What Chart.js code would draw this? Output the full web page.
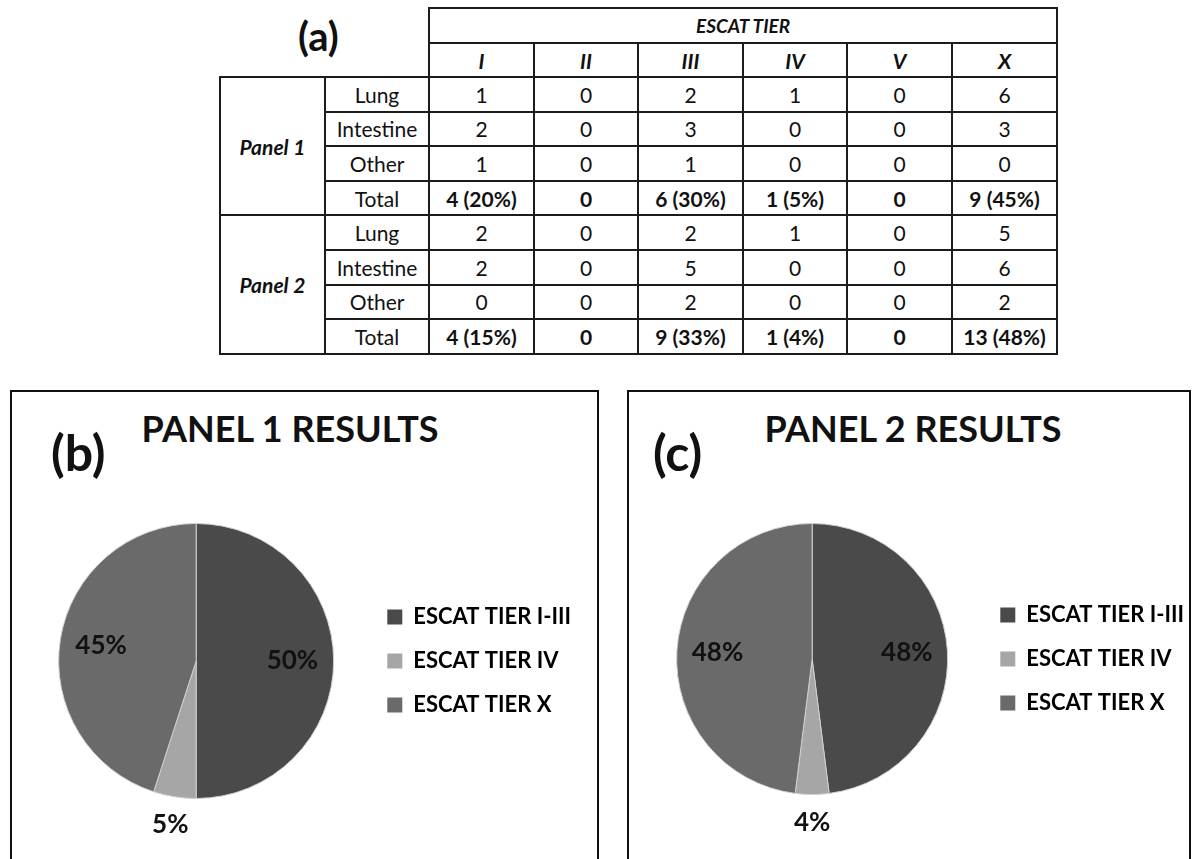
<!DOCTYPE html>
<html>
<head>
<meta charset="utf-8">
<script src="https://cdn.jsdelivr.net/npm/chart.js@4.4.1/dist/chart.umd.min.js"></script>
<style>
    body {
        margin: 0;
        width: 1200px;
        height: 859px;
        position: relative;
        overflow: hidden;
        background: #fff;
        color: #111;
        font-family: Lato, 'Open Sans', sans-serif;
    }
    .tag {
        position: absolute;
        font-weight: bold;
        white-space: nowrap;
    }
    #tagA { left: 298px; top: 16px; font-size: 40px; line-height: 40px; }
    #tagB { left: 51px; top: 427px; font-size: 50px; line-height: 50px; }
    #tagC { left: 653px; top: 427px; font-size: 50px; line-height: 50px; }
    .title {
        position: absolute;
        top: 410px;
        width: 400px;
        margin-left: -200px;
        text-align: center;
        font-size: 36px;
        line-height: 36px;
        font-weight: bold;
    }
    #title1 { left: 290px; }
    #title2 { left: 913px; }

    #tierTable {
        position: absolute;
        left: 219px;
        top: 7px;
        width: 839px;
        border-collapse: collapse;
        table-layout: fixed;
        font-size: 21px;
    }
    #tierTable td, #tierTable th {
        border: 2px solid #1c1c1c;
        text-align: center;
        vertical-align: middle;
        padding: 0;
        font-weight: normal;
        white-space: nowrap;
    }
    #tierTable th { font-weight: bold; font-style: italic; }
    #tierTable td.corner { border: none; }
    #tierTable td.panel { font-weight: bold; font-style: italic; }
    #tierTable tr.total td.v { font-weight: bold; }

    .box {
        position: absolute;
        top: 390px;
        height: 480px;
        border: 2px solid #111;
        box-sizing: border-box;
    }
    #box1 { left: 10px; width: 589px; }
    #box2 { left: 627px; width: 564px; }
    canvas { position: absolute; }
    #pie1 { left: 18px; top: 481px; }
    #pie2 { left: 636px; top: 481px; }
</style>
</head>
<body>
<div class="tag" id="tagA">(a)</div>
<table id="tierTable"></table>

<div class="box" id="box1"></div>
<div class="box" id="box2"></div>
<div class="tag" id="tagB">(b)</div>
<div class="tag" id="tagC">(c)</div>
<div class="title" id="title1">PANEL 1 RESULTS</div>
<div class="title" id="title2">PANEL 2 RESULTS</div>

<canvas id="pie1" width="563" height="360"></canvas>
<canvas id="pie2" width="558" height="360"></canvas>

<script>
// Tableau (a)
const tierHeader = 'ESCAT TIER';
const tierCols = ['I', 'II', 'III', 'IV', 'V', 'X'];
const panelNames = ['Panel 1', 'Panel 2'];
const rowLabels = ['Lung', 'Intestine', 'Other', 'Total'];
const panel1Rows = [
    [1, 0, 2, 1, 0, 6],
    [2, 0, 3, 0, 0, 3],
    [1, 0, 1, 0, 0, 0]
];
const panel1Totals = ['4 (20%)', '0', '6 (30%)', '1 (5%)', '0', '9 (45%)'];
const panel2Rows = [
    [2, 0, 2, 1, 0, 5],
    [2, 0, 5, 0, 0, 6],
    [0, 0, 2, 0, 0, 2]
];
const panel2Totals = ['4 (15%)', '0', '9 (33%)', '1 (4%)', '0', '13 (48%)'];

// Camemberts (b) et (c)
const pieLabels = ['ESCAT TIER I-III', 'ESCAT TIER IV', 'ESCAT TIER X'];
const panel1Pct = [50, 5, 45];
const panel2Pct = [48, 4, 48];
const pieColors = ['#4a4a4a', '#a6a6a6', '#6a6a6a'];

function buildTable() {
    const table = document.getElementById('tierTable');
    const colWidths = [105, 104, 105, 104, 105, 104, 105, 105];
    const colgroup = document.createElement('colgroup');
    colWidths.forEach(w => {
        const col = document.createElement('col');
        col.style.width = w + 'px';
        colgroup.appendChild(col);
    });
    table.appendChild(colgroup);

    let html = '<tr style="height:35px"><td class="corner" colspan="2" rowspan="2"></td>' +
        '<th colspan="6" style="font-size:19px">' + tierHeader + '</th></tr>';
    html += '<tr style="height:34px">' + tierCols.map(c => '<th>' + c + '</th>').join('') + '</tr>';

    [[panel1Rows, panel1Totals], [panel2Rows, panel2Totals]].forEach(([rows, totals], p) => {
        rows.forEach((vals, r) => {
            html += '<tr style="height:34.6px">';
            if (r === 0) html += '<td class="panel" rowspan="4">' + panelNames[p] + '</td>';
            html += '<td>' + rowLabels[r] + '</td>';
            html += vals.map(v => '<td class="v">' + v + '</td>').join('');
            html += '</tr>';
        });
        html += '<tr class="total" style="height:34.6px"><td>' + rowLabels[3] + '</td>' +
            totals.map(v => '<td class="v">' + v + '</td>').join('') + '</tr>';
    });
    table.innerHTML += html;
}

// Étiquettes de pourcentage sur les parts
const pctLabels = {
    id: 'pctLabels',
    afterDatasetsDraw(chart) {
        const ctx = chart.ctx;
        const values = chart.data.datasets[0].data;
        const meta = chart.getDatasetMeta(0);
        ctx.save();
        ctx.font = 'bold 26px Lato';
        ctx.fillStyle = '#111';
        ctx.textAlign = 'center';
        ctx.textBaseline = 'middle';
        meta.data.forEach((arc, i) => {
            const p = arc.getProps(['x', 'y', 'startAngle', 'endAngle', 'outerRadius'], true);
            const mid = (p.startAngle + p.endAngle) / 2;
            const dist = values[i] < 10 ? p.outerRadius + 28 : p.outerRadius * 0.7;
            ctx.fillText(values[i] + '%', p.x + Math.cos(mid) * dist, p.y + Math.sin(mid) * dist);
        });
        ctx.restore();
    }
};

function createPie(canvasId, values, padding) {
    return new Chart(document.getElementById(canvasId), {
        type: 'pie',
        data: {
            labels: pieLabels,
            datasets: [{
                data: values,
                backgroundColor: pieColors,
                borderColor: '#cfcfcf',
                borderWidth: 1
            }]
        },
        options: {
            responsive: false,
            animation: false,
            layout: { padding: padding },
            plugins: {
                tooltip: { enabled: false },
                legend: {
                    position: 'right',
                    labels: {
                        boxWidth: 15,
                        boxHeight: 15,
                        padding: 22,
                        color: '#000',
                        font: { family: 'Lato', size: 22, weight: 'bold' },
                        generateLabels(chart) {
                            return chart.data.labels.map((text, i) => ({
                                text: text,
                                fillStyle: pieColors[i],
                                strokeStyle: pieColors[i],
                                lineWidth: 0,
                                index: i
                            }));
                        }
                    }
                }
            }
        },
        plugins: [pctLabels]
    });
}

document.addEventListener('DOMContentLoaded', () => {
    buildTable();
    createPie('pie1', panel1Pct, { top: 42, bottom: 42, left: 9, right: 0 });
    createPie('pie2', panel2Pct, { top: 42, bottom: 46, left: 10, right: 0 });
});
</script>
</body>
</html>
